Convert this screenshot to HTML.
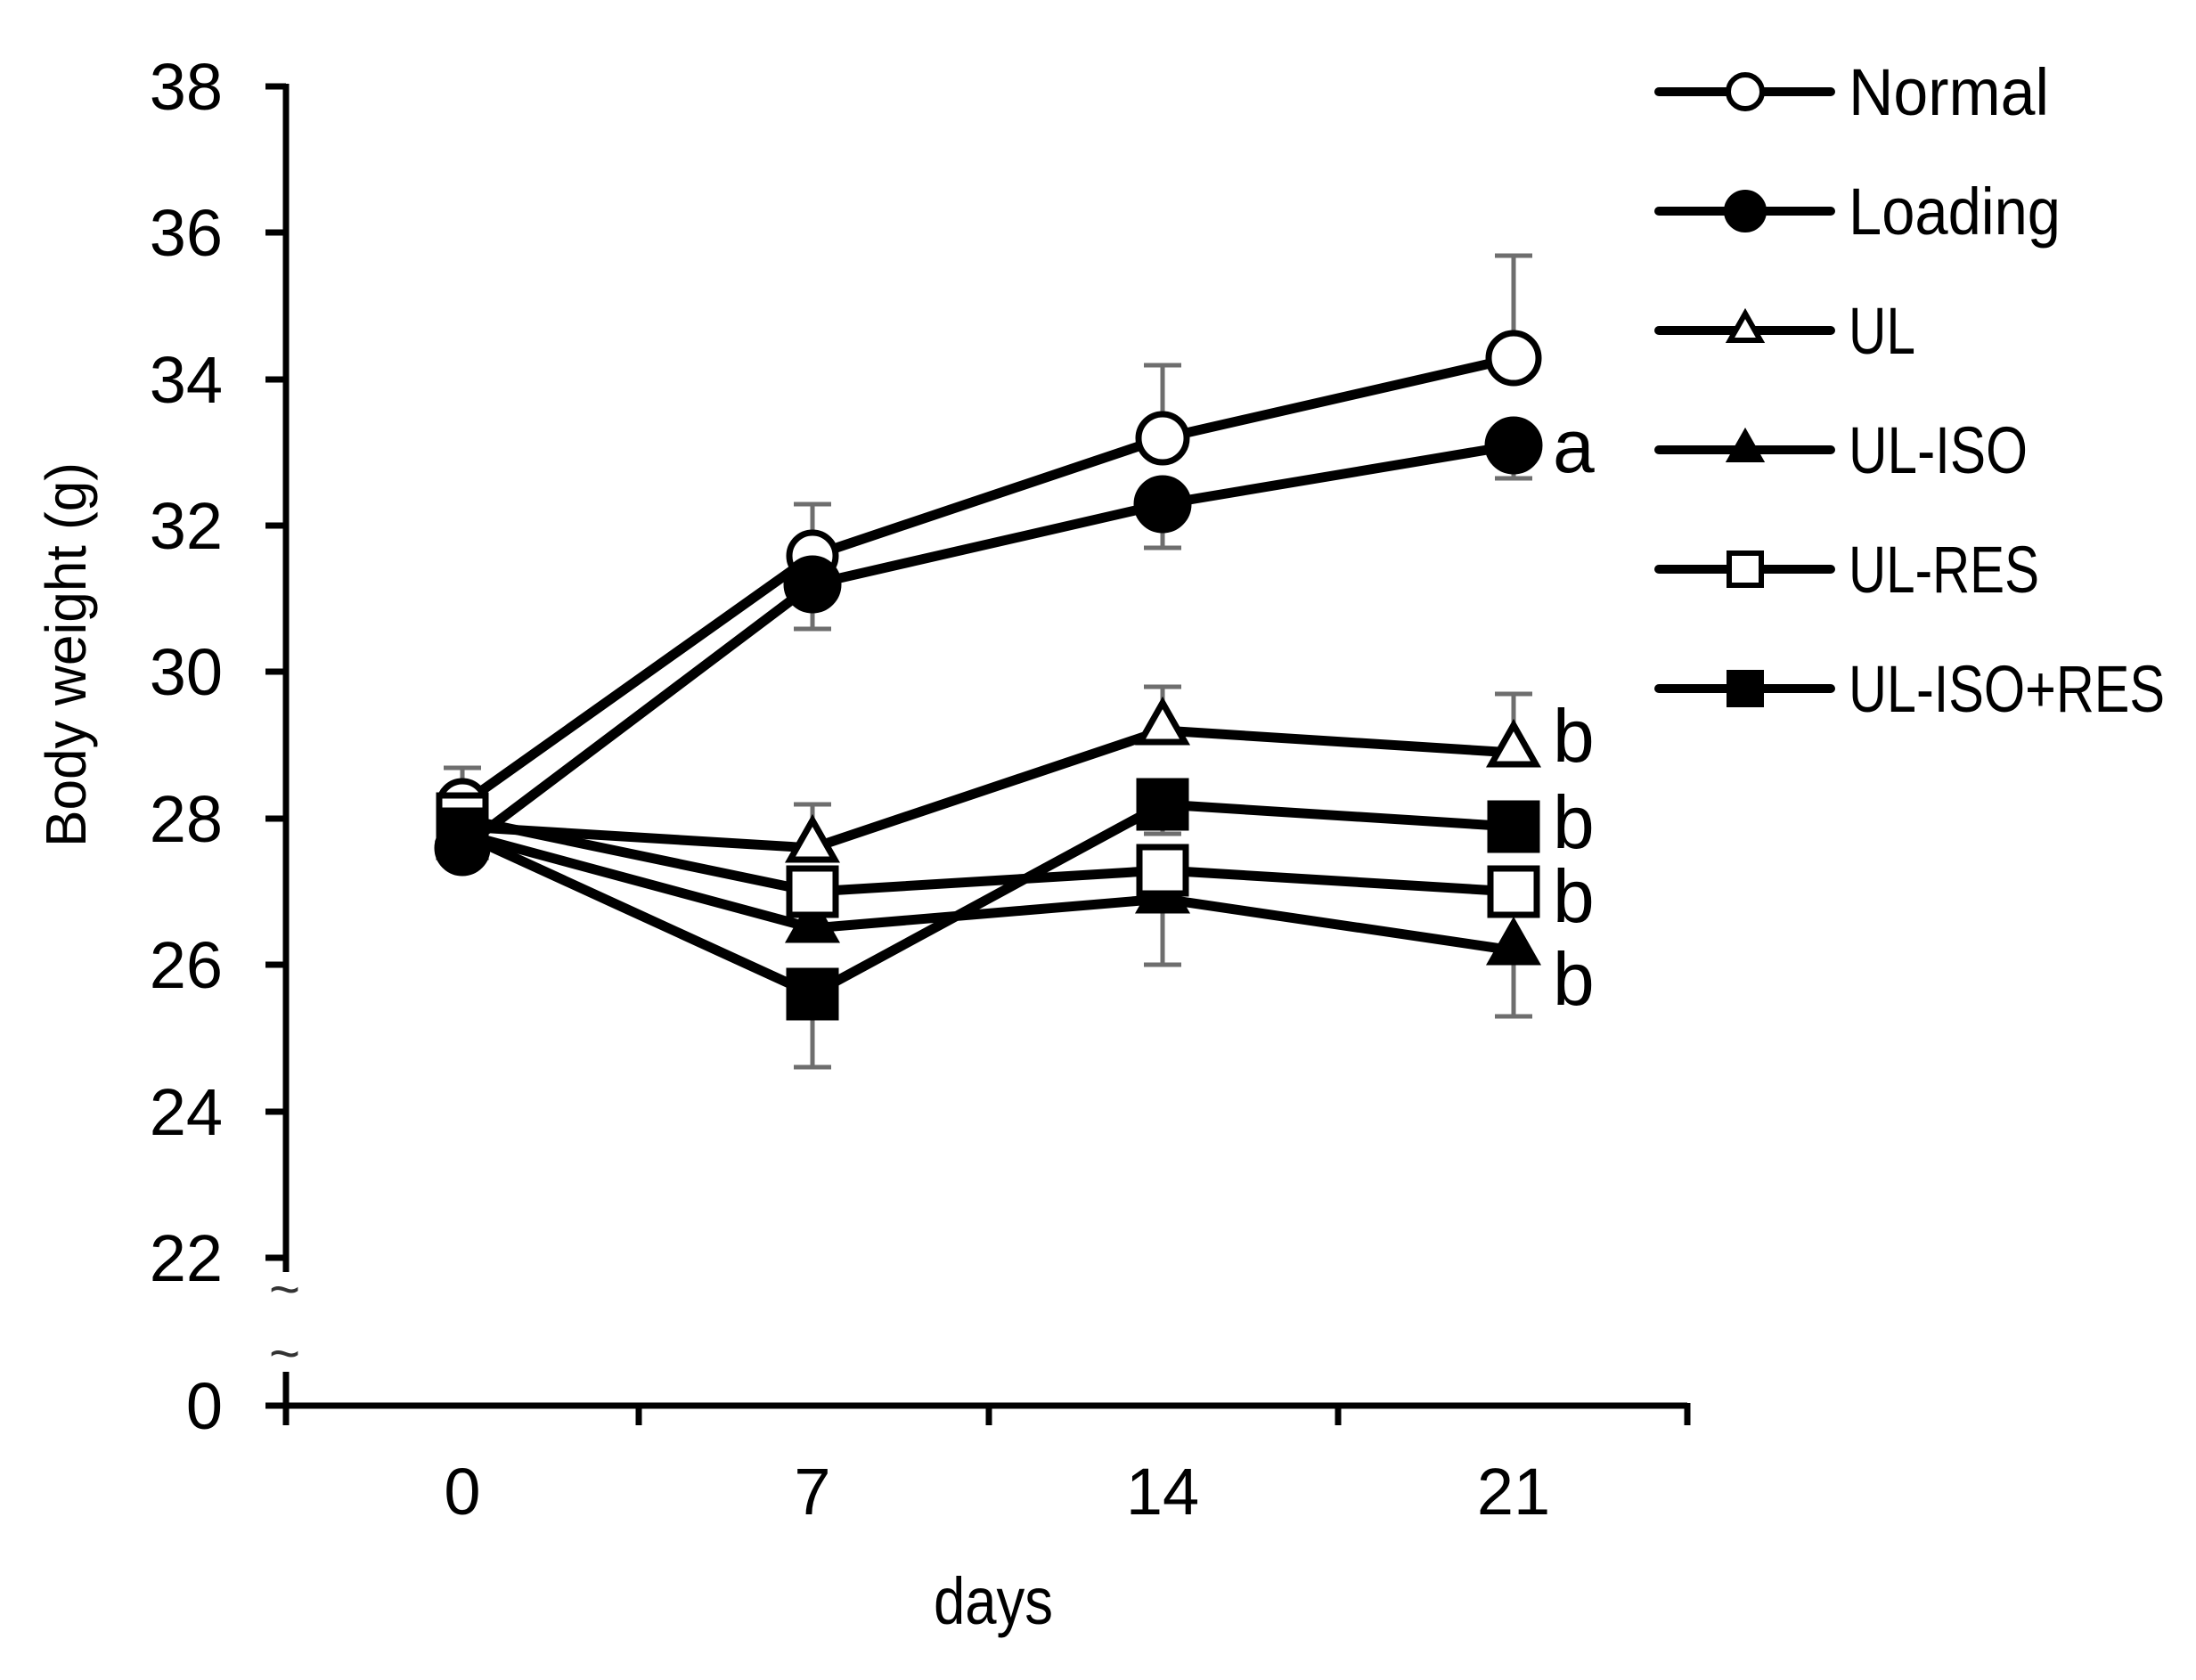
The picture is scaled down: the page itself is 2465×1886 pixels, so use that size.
<!DOCTYPE html>
<html><head><meta charset="utf-8"><style>body{margin:0;background:#fff}svg{display:block}</style></head><body>
<svg width="2465" height="1886" viewBox="0 0 2465 1886" xmlns="http://www.w3.org/2000/svg" font-family="'Liberation Sans', sans-serif">
<rect width="2465" height="1886" fill="#fff"/>
<g stroke="#000" stroke-width="7" fill="none">
<line x1="321" y1="94" x2="321" y2="1428"/>
<line x1="321" y1="1540" x2="321" y2="1600"/>
<line x1="298" y1="1578" x2="1894" y2="1578"/>
<line x1="1894" y1="1575" x2="1894" y2="1600"/>
<line x1="717" y1="1578" x2="717" y2="1600"/>
<line x1="1110" y1="1578" x2="1110" y2="1600"/>
<line x1="1502" y1="1578" x2="1502" y2="1600"/>
<line x1="298" y1="97" x2="321" y2="97"/><line x1="298" y1="261" x2="321" y2="261"/><line x1="298" y1="426" x2="321" y2="426"/><line x1="298" y1="590" x2="321" y2="590"/><line x1="298" y1="754" x2="321" y2="754"/><line x1="298" y1="919" x2="321" y2="919"/><line x1="298" y1="1083" x2="321" y2="1083"/><line x1="298" y1="1248" x2="321" y2="1248"/><line x1="298" y1="1412" x2="321" y2="1412"/>
</g>
<g font-size="60" fill="#333"><text x="302" y="1468">~</text><text x="302" y="1540">~</text></g>
<g font-size="74" fill="#000" text-anchor="end">
<text x="250" y="123">38</text><text x="250" y="287">36</text><text x="250" y="452">34</text><text x="250" y="616">32</text><text x="250" y="780">30</text><text x="250" y="945">28</text><text x="250" y="1109">26</text><text x="250" y="1274">24</text><text x="250" y="1438">22</text><text x="250" y="1604">0</text>
</g>
<g font-size="74" fill="#000" text-anchor="middle">
<text x="519" y="1700">0</text><text x="912" y="1700">7</text><text x="1305" y="1700">14</text><text x="1699" y="1700">21</text>
<text x="1115" y="1823" textLength="134" lengthAdjust="spacingAndGlyphs">days</text>
</g>
<text transform="translate(96,735) rotate(-90)" font-size="64" text-anchor="middle" fill="#000" textLength="432" lengthAdjust="spacingAndGlyphs">Body weight (g)</text>
<g stroke="#6e6e6e" stroke-width="5" fill="none">
<path d="M519 903V862M498 862H540"/>
<path d="M912 624V566M891 566H933"/>
<path d="M1305 492V410M1284 410H1326"/>
<path d="M1699 402V287M1678 287H1720"/>
<path d="M912 656V706M891 706H933"/>
<path d="M1305 566V615M1284 615H1326"/>
<path d="M1699 500V537M1678 537H1720"/>
<path d="M912 952V903M891 903H933"/>
<path d="M1305 820V771M1284 771H1326"/>
<path d="M1699 845V779M1678 779H1720"/>
<path d="M1305 1009V1083M1284 1083H1326"/>
<path d="M1699 1067V1141M1678 1141H1720"/>
<path d="M912 1116V1198M891 1198H933"/>
<path d="M1305 903V936M1284 936H1326"/>
</g>
<g stroke="#000" stroke-width="11" fill="none" stroke-linejoin="round">
<polyline points="519,903 912,624 1305,492 1699,402"/>
<polyline points="519,952 912,656 1305,566 1699,500"/>
<polyline points="519,928 912,952 1305,820 1699,845"/>
<polyline points="519,936 912,1042 1305,1009 1699,1067"/>
<polyline points="519,919 912,1001 1305,977 1699,1001"/>
<polyline points="519,936 912,1116 1305,903 1699,928"/>
</g>
<g stroke="#000" stroke-width="7">
<g fill="#fff"><circle cx="519" cy="903" r="26"/><circle cx="912" cy="624" r="26"/><circle cx="1305" cy="492" r="27"/><circle cx="1699" cy="402" r="28"/></g>
<g fill="#000"><circle cx="519" cy="952" r="28"/><circle cx="912" cy="656" r="29"/><circle cx="1305" cy="566" r="29"/><circle cx="1699" cy="500" r="29"/></g>
<g fill="#fff"><path d="M519 897l25 44h-50z"/><path d="M912 921l25 44h-50z"/><path d="M1305 789l25 44h-50z"/><path d="M1699 814l25 44h-50z"/></g>
<g fill="#000"><path d="M519 905l25 44h-50z"/><path d="M912 1011l25 44h-50z"/><path d="M1305 978l25 44h-50z"/><path d="M1699 1036l25 44h-50z"/></g>
<g fill="#fff"><rect x="493" y="893" width="52" height="52"/><rect x="886" y="975" width="52" height="52"/><rect x="1279" y="951" width="52" height="52"/><rect x="1673" y="975" width="52" height="52"/></g>
<g fill="#000"><rect x="493" y="910" width="52" height="52"/><rect x="886" y="1090" width="52" height="52"/><rect x="1279" y="877" width="52" height="52"/><rect x="1673" y="902" width="52" height="52"/></g>
</g>
<g font-size="84" fill="#000">
<text x="1743" y="530">a</text>
<text x="1743" y="855">b</text><text x="1743" y="952">b</text><text x="1743" y="1035">b</text><text x="1743" y="1128">b</text>
</g>
<g stroke="#000" stroke-width="10" stroke-linecap="round">
<line x1="1862" y1="103" x2="2055" y2="103"/><line x1="1862" y1="237" x2="2055" y2="237"/><line x1="1862" y1="371" x2="2055" y2="371"/><line x1="1862" y1="505" x2="2055" y2="505"/><line x1="1862" y1="639" x2="2055" y2="639"/><line x1="1862" y1="773" x2="2055" y2="773"/>
</g>
<g stroke="#000" stroke-width="6">
<circle cx="1959" cy="103" r="19" fill="#fff"/>
<circle cx="1959" cy="237" r="21" fill="#000"/>
<path d="M1959 352l17 30h-34z" fill="#fff"/>
<path d="M1959 486l17 30h-34z" fill="#000"/>
<rect x="1941" y="621" width="36" height="36" fill="#fff"/>
<rect x="1941" y="755" width="36" height="36" fill="#000"/>
</g>
<g font-size="74" fill="#000" lengthAdjust="spacingAndGlyphs">
<text x="2075" y="129" textLength="225" lengthAdjust="spacingAndGlyphs">Normal</text>
<text x="2075" y="263" textLength="238" lengthAdjust="spacingAndGlyphs">Loading</text>
<text x="2075" y="397" textLength="75" lengthAdjust="spacingAndGlyphs">UL</text>
<text x="2075" y="531" textLength="201" lengthAdjust="spacingAndGlyphs">UL-ISO</text>
<text x="2075" y="665" textLength="214" lengthAdjust="spacingAndGlyphs">UL-RES</text>
<text x="2075" y="799" textLength="355" lengthAdjust="spacingAndGlyphs">UL-ISO+RES</text>
</g>
</svg>
</body></html>
